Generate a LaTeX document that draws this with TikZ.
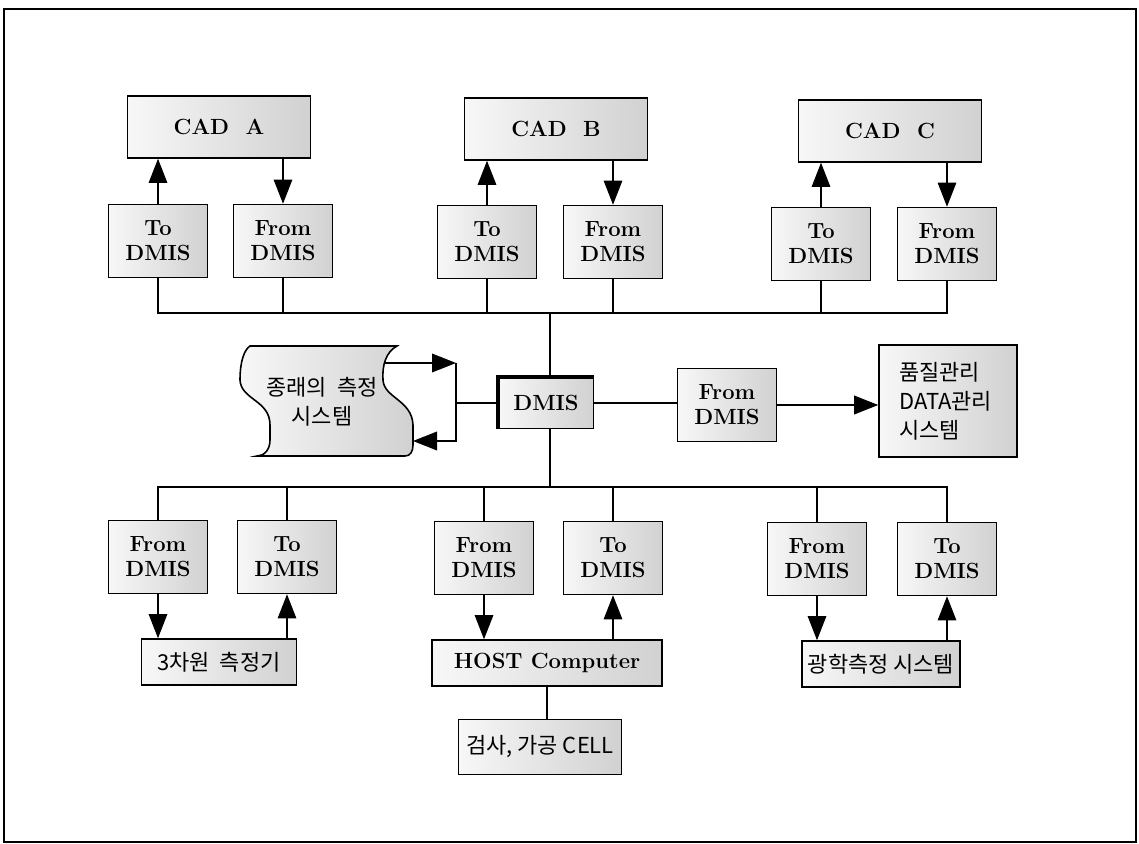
\documentclass[tikz,border=0pt]{standalone}
\usepackage{fontspec}
\newfontfamily\kr{Noto Sans CJK KR}
\usetikzlibrary{arrows.meta,positioning}

\begin{document}
\begin{tikzpicture}[x=0.02cm,y=-0.02cm,>={Triangle[length=4.8mm,width=3.7mm]},
  box/.style={draw,line width=0.9pt,left color=black!3,right color=black!18,
  align=center,inner sep=2pt,font=\bfseries\fontsize{12.5}{14.2}\selectfont},
  io/.style={box,minimum width=1.98cm,minimum height=1.46cm},
  cad/.style={box,minimum width=3.66cm,minimum height=1.24cm},
  dev/.style={box,minimum height=0.92cm},
  han/.style={font=\kr\fontsize{12.5}{16.5}\selectfont},
  every path/.style={line width=0.6pt}]
\useasboundingbox (0,0) rectangle (1139,844);
\draw[line width=1.2pt] (4,9) rectangle (1136,842);
% CAD systems
\node[cad] (cada) at (219,127) {CAD\ \ A};
\node[cad] (cadb) at (556,129) {CAD\ \ B};
\node[cad] (cadc) at (890,131) {CAD\ \ C};
\node[io] (toa) at (158,241) {To\\DMIS};
\node[io] (froma) at (283,241) {From\\DMIS};
\node[io] (tob) at (487,242) {To\\DMIS};
\node[io] (fromb) at (613,242) {From\\DMIS};
\node[io] (toc) at (821,244) {To\\DMIS};
\node[io] (fromc) at (947,244) {From\\DMIS};
% centre
\coordinate (bus1) at (550,313);
\coordinate (bus2) at (550,487);
\node[box,minimum width=1.9cm,minimum height=1.02cm] (dmis) at (546,403) {DMIS};
\draw[line width=2.4pt] (dmis.south west) -- (dmis.north west) -- (dmis.north east);
\node[io] (frommid) at (727,405) {From\\DMIS};
\node[box,han,align=left,text width=1.95cm,minimum width=2.76cm,minimum height=2.24cm] (qc) at (948,401) {품질관리\\DATA관리\\시스템};
\draw[line width=0.9pt,left color=black!3,right color=black!18]
  (250,346) -- (397,346)
  .. controls (386,352) and (382,365) .. (383,380)
  .. controls (384,398) and (412,400) .. (413,425)
  -- (413,445) .. controls (413,452) and (410,456) .. (405,456)
  -- (257,456) .. controls (264,456) and (270,450) .. (270,440)
  -- (270,425) .. controls (270,400) and (241,400) .. (240,380)
  .. controls (240,362) and (244,350) .. (250,346) -- cycle;
\node[han,align=center] (old) at (322,402) {종래의\ \ 측정\\시스템};
\coordinate (junc) at (456,403);
\coordinate (oldin) at (385,363);
\coordinate (oldout) at (413,441);
% measuring devices
\node[io] (froml) at (158,557) {From\\DMIS};
\node[io] (tol) at (287,557) {To\\DMIS};
\node[io] (fromh) at (484,558) {From\\DMIS};
\node[io] (toh) at (613,558) {To\\DMIS};
\node[io] (fromo) at (817,559) {From\\DMIS};
\node[io] (too) at (947,559) {To\\DMIS};
\node[dev,han,minimum width=3.1cm] (cmm) at (219,662) {3차원\ \ 측정기};
\node[dev,minimum width=4.6cm] (host) at (547,663) {HOST Computer};
\node[dev,han,minimum width=3.16cm] (optic) at (881,664) {광학측정 시스템};
\node[box,han,minimum width=3.26cm,minimum height=1.1cm] (cell) at (540,747) {검사, 가공 CELL};
% upper bus
\draw (toa.south) -- (toa.south |- bus1) -- (fromc.south |- bus1) -- (fromc.south);
\foreach \n in {froma,tob,fromb,toc} \draw (\n.south) -- (\n.south |- bus1);
\draw (bus1) -- (bus1 |- dmis.north);
\foreach \a/\b in {toa/cada,tob/cadb,toc/cadc} \draw[->] (\a.north) -- (\a.north |- \b.south);
\foreach \a/\b in {cada/froma,cadb/fromb,cadc/fromc} \draw[->] (\b.north |- \a.south) -- (\b.north);
% middle
\draw (dmis.west) -- (junc);
\draw[->,line width=1.2pt] (oldin) -- (oldin -| junc);
\draw[->,line width=1.2pt] (oldin -| junc) |- (oldout);
\draw (dmis.east) -- (dmis.east -| frommid.west);
\draw[->,line width=1.2pt] (frommid.east) -- (frommid.east -| qc.west);
% lower bus
\draw (bus2 |- dmis.south) -- (bus2);
\draw (froml.north) -- (froml.north |- bus2) -- (too.north |- bus2) -- (too.north);
\foreach \n in {tol,fromh,toh,fromo} \draw (\n.north) -- (\n.north |- bus2);
\foreach \a/\b in {froml/cmm,fromh/host,fromo/optic} \draw[->] (\a.south) -- (\a.south |- \b.north);
\foreach \a/\b in {tol/cmm,toh/host,too/optic} \draw[->] (\a.south |- \b.north) -- (\a.south);
\draw (host.south) -- (host.south |- cell.north);
\end{tikzpicture}
\end{document}
